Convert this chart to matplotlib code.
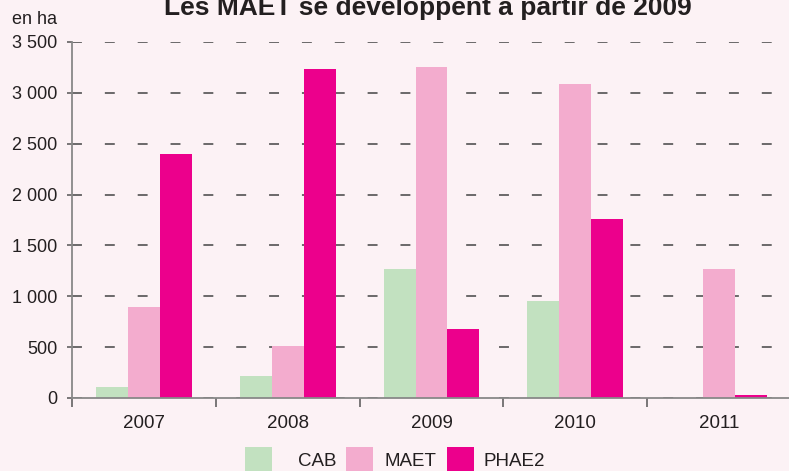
import matplotlib.pyplot as plt
from matplotlib.patches import Rectangle
import numpy as np

years = ["2007", "2008", "2009", "2010", "2011"]
cab = [105, 215, 1265, 955, 0]
maet = [890, 510, 3250, 3085, 1265]
phae2 = [2400, 3230, 680, 1760, 30]
series = ["CAB", "MAET", "PHAE2"]
colors = ["#c2e1c0", "#f3acce", "#ec008c"]
yticks = [0, 500, 1000, 1500, 2000, 2500, 3000, 3500]
ytick_labels = ["0", "500", "1 000", "1 500", "2 000", "2 500", "3 000", "3 500"]

bg = "#fcf2f5"
txt = "#231f20"
plt.rcParams['font.family'] = ['Liberation Sans', 'DejaVu Sans']

fig = plt.figure(figsize=(7.89, 4.71), dpi=100, facecolor=bg)
W, H = 789, 471
ax = fig.add_axes([72 / W, (H - 398) / H, (791 - 72) / W, (398 - 42) / H])
ax.set_facecolor(bg)

x = np.arange(len(years))
w = 0.222
for i, (vals, name) in enumerate(zip([cab, maet, phae2], series)):
    ax.bar(x + (i - 1) * w, vals, width=w, color=colors[i], label=name, zorder=3)

ax.set_xlim(-0.5, 4.5)
ax.set_ylim(0, 3500)
ax.set_yticks(yticks)
ax.set_yticklabels(ytick_labels)
ax.set_xticks(x)
ax.set_xticklabels(years)
ax.set_xticks(np.arange(-0.5, 5, 1), minor=True)
ax.tick_params(axis='x', which='major', length=0, pad=12, labelsize=13.5, labelcolor=txt)
ax.tick_params(axis='x', which='minor', length=6.5, width=1.1, color="#555555", direction='out')
ax.tick_params(axis='y', length=3.6, width=1.1, color="#555555", pad=7, labelsize=13, labelcolor=txt)

ax.yaxis.grid(True, color="#444444", linewidth=1.1, linestyle=(0, (6.5, 15)), zorder=1)
for s in ["top", "right"]:
    ax.spines[s].set_visible(False)
for s in ["left", "bottom"]:
    ax.spines[s].set_color("#888888")
    ax.spines[s].set_linewidth(1.3)
ax.spines["bottom"].set_zorder(4)

fig.text(428 / W, 1 - 15 / H, "Les MAET se développent à partir de 2009",
         ha='center', va='baseline', fontsize=19, fontweight='bold', color=txt)
fig.text(57 / W, 1 - 20 / H, "en ha", ha='right', va='center', fontsize=13, color=txt)

# legend drawn by hand: uneven spacing in the original
patch_x = [245, 346, 447]
text_x = [298, 385, 484]
for px, tx, name, c in zip(patch_x, text_x, series, colors):
    fig.add_artist(Rectangle((px / W, 1 - 478 / H), 27 / W, 31 / H,
                             transform=fig.transFigure, color=c, lw=0))
    fig.text(tx / W, 1 - 461 / H, name, ha='left', va='center', fontsize=13.5, color=txt)

fig.savefig("out.png", dpi=100, facecolor=bg)
